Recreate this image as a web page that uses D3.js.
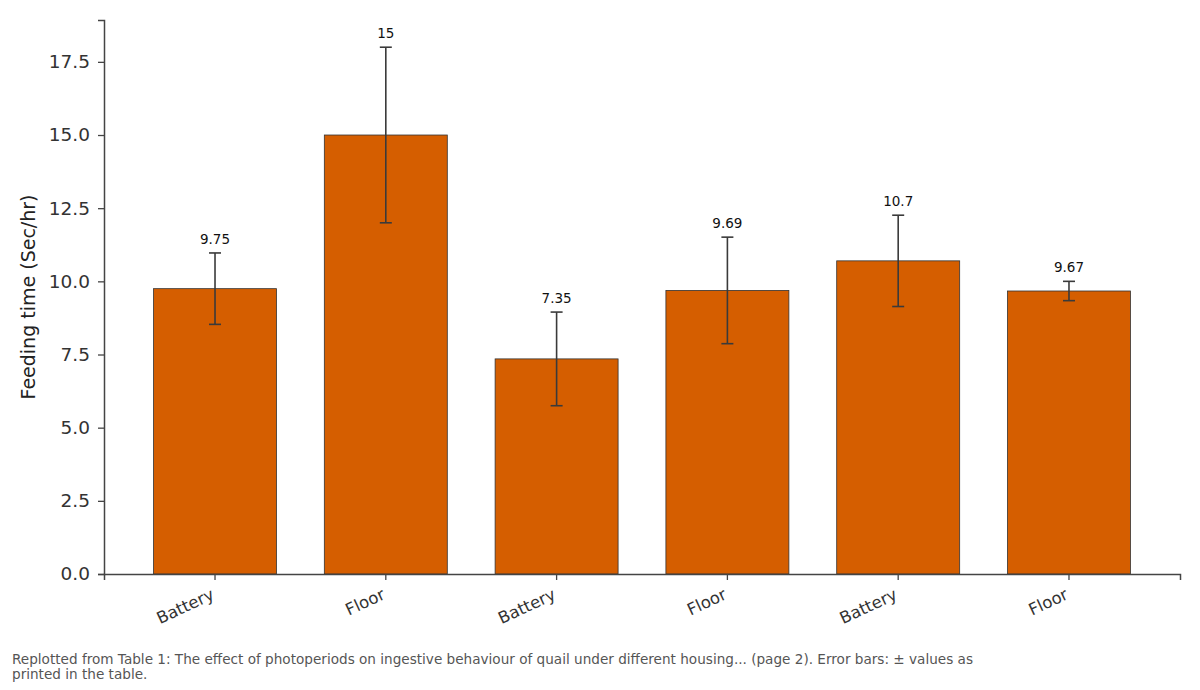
<!DOCTYPE html>
<html>
<head>
<meta charset="utf-8">
<script src="https://cdn.jsdelivr.net/npm/d3@7"></script>
<style>
  body { margin: 0; background: #fff; }
  svg { font-family: "DejaVu Sans", sans-serif; }
</style>
</head>
<body>
<div id="chart"></div>
<script>
var housing = ["Battery", "Floor", "Battery", "Floor", "Battery", "Floor"];
var feedTime = [9.75, 15, 7.35, 9.69, 10.7, 9.67];
var plusMinus = [1.22, 3, 1.6, 1.82, 1.56, 0.33];
var yTicks = [0, 2.5, 5, 7.5, 10, 12.5, 15, 17.5];

var width = 1200, height = 690;
var margin = {top: 20, right: 20, bottom: 116, left: 104};

var svg = d3.select("#chart").append("svg")
  .attr("width", width)
  .attr("height", height);

var ids = housing.map(function(d, i) { return i; });

var x = d3.scaleBand()
  .domain(ids)
  .range([margin.left, width - margin.right])
  .paddingInner(0.28)
  .paddingOuter(0.29);

var y = d3.scaleLinear()
  .domain([0, 18.93])
  .range([height - margin.bottom, margin.top]);

// bars
svg.append("g").selectAll("rect")
  .data(feedTime)
  .enter().append("rect")
  .attr("x", function(d, i) { return x(i); })
  .attr("y", function(d) { return y(d); })
  .attr("width", x.bandwidth())
  .attr("height", function(d) { return y(0) - y(d); })
  .attr("fill", "#d55e00")
  .attr("stroke", "#333")
  .attr("stroke-width", 0.8);

// error bars
var eb = svg.append("g").attr("stroke", "#3a3a3a").attr("stroke-width", 1.6);
feedTime.forEach(function(v, i) {
  var cx = x(i) + x.bandwidth() / 2;
  var hi = y(v + plusMinus[i]), lo = y(v - plusMinus[i]);
  eb.append("line").attr("x1", cx).attr("x2", cx).attr("y1", hi).attr("y2", lo);
  eb.append("line").attr("x1", cx - 6).attr("x2", cx + 6).attr("y1", hi).attr("y2", hi);
  eb.append("line").attr("x1", cx - 6).attr("x2", cx + 6).attr("y1", lo).attr("y2", lo);
});

// value labels above the caps
svg.append("g").selectAll("text")
  .data(feedTime)
  .enter().append("text")
  .attr("x", function(d, i) { return x(i) + x.bandwidth() / 2; })
  .attr("y", function(d, i) { return y(d + plusMinus[i]) - 9; })
  .attr("text-anchor", "middle")
  .attr("font-size", "13.5px")
  .attr("fill", "#111")
  .text(function(d) { return d; });

// y axis
var yAxis = svg.append("g")
  .attr("transform", "translate(" + margin.left + ",0)")
  .call(d3.axisLeft(y).tickValues(yTicks).tickFormat(d3.format(".1f")).tickSizeOuter(0).tickSize(6).tickPadding(8));
yAxis.select(".domain").attr("stroke", "#444").attr("stroke-width", 1.5);
yAxis.selectAll(".tick line").attr("stroke", "#444").attr("stroke-width", 1.3);
yAxis.selectAll(".tick text").attr("font-size", "18.5px").attr("fill", "#333").attr("font-family", "DejaVu Sans, sans-serif");

// x axis
var xAxis = svg.append("g")
  .attr("transform", "translate(0," + y(0) + ")")
  .call(d3.axisBottom(x).tickFormat(function(i) { return housing[i]; }).tickSizeOuter(0).tickSize(6));
xAxis.select(".domain").attr("stroke", "#444").attr("stroke-width", 1.5);
xAxis.selectAll(".tick line").attr("stroke", "#444").attr("stroke-width", 1.3);
xAxis.selectAll(".tick text")
  .attr("font-size", "16.5px")
  .attr("fill", "#333")
  .attr("font-family", "DejaVu Sans, sans-serif")
  .attr("text-anchor", "end")
  .attr("dy", "0.35em")
  .attr("transform", "translate(-6,11) rotate(-25)");

// y label
svg.append("text")
  .attr("transform", "translate(35," + ((margin.top + y(0)) / 2) + ") rotate(-90)")
  .attr("text-anchor", "middle")
  .attr("font-size", "19px")
  .attr("fill", "#222")
  .text("Feeding time (Sec/hr)");

// footnote
var note = svg.append("text")
  .attr("x", 12)
  .attr("y", 664)
  .attr("font-size", "13.6px")
  .attr("fill", "#555");
note.append("tspan").attr("x", 12).text("Replotted from Table 1: The effect of photoperiods on ingestive behaviour of quail under different housing... (page 2). Error bars: \u00b1 values as");
note.append("tspan").attr("x", 12).attr("dy", 15).text("printed in the table.");
</script>
</body>
</html>
